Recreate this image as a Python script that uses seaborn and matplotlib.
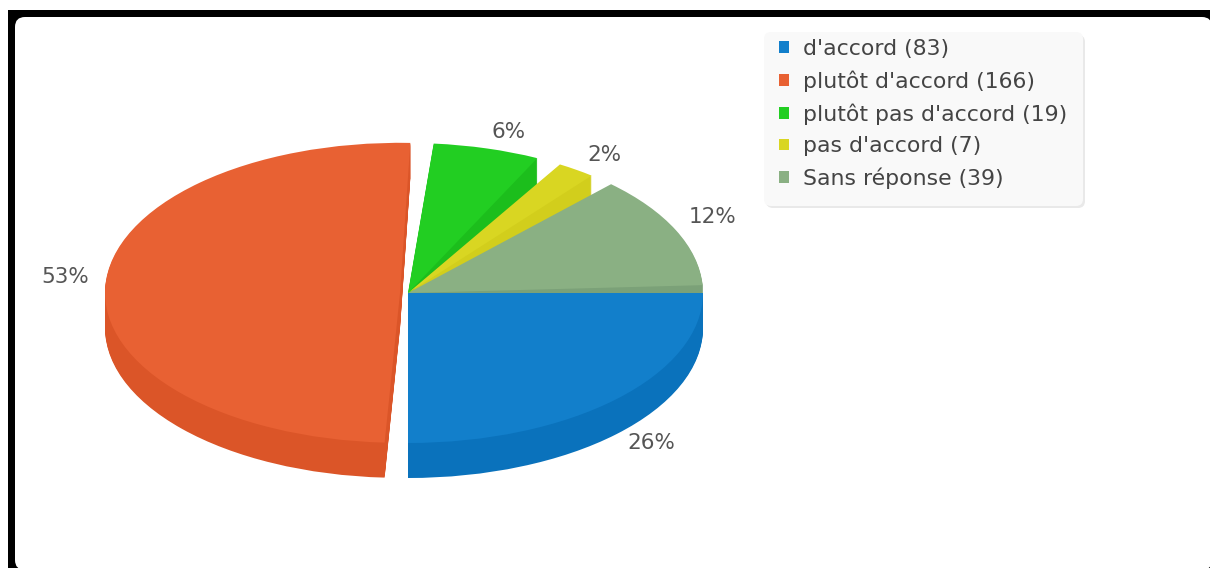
#!/usr/bin/env python3
"""Camembert 3D des reponses (d'accord / pas d'accord)."""

import matplotlib

matplotlib.use("Agg")

import matplotlib.pyplot as plt
import seaborn as sns
from matplotlib.patches import FancyBboxPatch, Patch, Rectangle

categories = ["d'accord", "plutôt d'accord", "plutôt pas d'accord", "pas d'accord", "Sans réponse"]
counts = [83, 166, 19, 7, 39]

# ouverture des parts, en degres : le rendu d'origine ne
# respecte pas les effectifs (53% y occupe a peine la moitie du disque)
slice_degrees = [90, 179, 21, 7.5, 43.5]
gap_degrees = [3, 3, 5, 5, 3]

top_colors = ["#127FCB", "#E86133", "#22CE22", "#D9D622", "#8AB083"]
side_colors = ["#0A72BC", "#DB5528", "#1CBE1C", "#D2CE1C", "#7BA178"]
explode = [0.0, 0.027, 0.0, 0.0, 0.0]

W, H = 1216, 568
CX, CY = 408, 293  # centre du camembert (px)
RX, RY = 295, 150  # rayons de l'ellipse (px)
DEPTH = 35  # epaisseur (px)

sns.set_theme(style="white")
plt.rcParams["font.family"] = ["DejaVu Sans"]

fig = plt.figure(figsize=(W / 100, H / 100), dpi=100, facecolor="white")

# fond en pixels : cadre noir et zone blanche arrondie
bg = fig.add_axes([0, 0, 1, 1], zorder=0)
bg.set_xlim(0, W)
bg.set_ylim(H, 0)
bg.axis("off")
bg.add_patch(Rectangle((8, 10), 1202, 570, fc="black", ec="none"))
bg.add_patch(FancyBboxPatch((15, 17), 1197, 553, boxstyle="round,pad=0,rounding_size=10",
                            fc="white", ec="none"))
bg.add_patch(Rectangle((1211, 17), 5, 560, fc="white", ec="none"))

# cadre de la legende et son ombre
bg.add_patch(FancyBboxPatch((766, 35), 319, 173, boxstyle="round,pad=0,rounding_size=7",
                            fc="#E9E9E9", ec="none"))
bg.add_patch(FancyBboxPatch((764, 32), 319, 174, boxstyle="round,pad=0,rounding_size=7",
                            fc="#F9F9F9", ec="none"))

# le camembert : un axe ou 1 unite vaut RX px en x et RY px en y
ax = fig.add_axes([0, 0, 1, 1], zorder=1)
ax.patch.set_alpha(0)


def interleave(values, between):
    """Intercale les intervalles vides entre les parts."""
    return [item for pair in zip(values, between) for item in pair]


sweep = interleave(slice_degrees, gap_degrees)
offsets = interleave(explode, [0] * len(explode))
clear = ["none"] * len(gap_degrees)

for d in range(DEPTH, 0, -1):
    ax.pie(sweep, colors=interleave(side_colors, clear), explode=offsets, startangle=0,
           counterclock=False, center=(0, -d / RY), radius=1,
           wedgeprops={"linewidth": 0}, frame=True)
ax.pie(sweep, colors=interleave(top_colors, clear), explode=offsets, startangle=0,
       counterclock=False, center=(0, 0), radius=1,
       wedgeprops={"linewidth": 0}, frame=True)

ax.set_aspect("auto")
ax.set_xlim(-CX / RX, (W - CX) / RX)
ax.set_ylim(-(H - CY) / RY, CY / RY)
ax.axis("off")

# pourcentages
total = sum(counts)
label_pos = [(651, 443), (65, 277), (509, 132), (604, 155), (713, 217)]
for value, (x, y) in zip(counts, label_pos):
    bg.text(x, y, f"{round(100 * value / total)}%", ha="center", va="center",
            fontsize=15.5, color="#555555", zorder=5)

# legende
handles = [Patch(fc=c, ec="none") for c in top_colors]
labels = [f"{c} ({v})" for c, v in zip(categories, counts)]
leg = ax.legend(handles, labels, loc="upper left", bbox_to_anchor=(779 / W, 1 - 39 / H),
                bbox_transform=fig.transFigure, fontsize=15.8, frameon=False,
                handlelength=0.45, handleheight=0.45, handletextpad=0.63,
                labelspacing=0.52, borderpad=0, borderaxespad=0)
for text in leg.get_texts():
    text.set_color("#444444")

fig.savefig("out.png", dpi=100)
